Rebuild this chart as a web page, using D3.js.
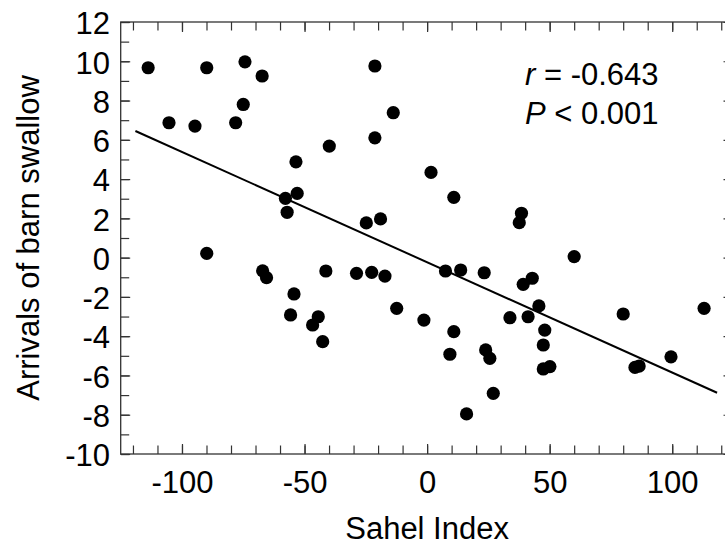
<!DOCTYPE html>
<html>
<head>
<meta charset="utf-8">
<script src="https://cdn.jsdelivr.net/npm/d3@7"></script>
<style>
  body { margin: 0; background: #fff; }
  svg text { font-family: Arial, "Liberation Sans", sans-serif; fill: #000; }
</style>
</head>
<body>
<script>
// Sahel Index (x) and barn swallow arrival anomaly (y)
const sahel = [-113.8, -89.9, -74.3, -67.3, -105.3, -94.7, -78.1, -75.0, -39.9, -53.5,
  -53.0, -57.8, -57.1, -89.9, -24.8, -21.3, -21.3, -13.8, 1.6, 10.9,
  -19.0, 38.5, 37.6, 60.0, -67.1, -65.5, -41.3, -28.8, -22.6, -17.2,
  -54.3, -55.7, -44.4, -46.7, -42.6, -12.4, -1.3, 7.5, 13.7, 23.3,
  10.9, 9.3, 23.9, 25.6, 27.0, 16.1, 33.8, 39.2, 42.9, 45.6,
  41.2, 48.0, 47.4, 47.4, 50.1, 80.0, 84.8, 86.5, 99.5, 113.0];
const arrival = [9.67, 9.67, 9.97, 9.25, 6.87, 6.70, 6.87, 7.80, 5.68, 4.88,
  3.27, 3.02, 2.31, 0.22, 1.77, 9.76, 6.10, 7.38, 4.34, 3.07,
  1.97, 2.26, 1.78, 0.05, -0.67, -1.02, -0.68, -0.80, -0.75, -0.94,
  -1.85, -2.92, -3.01, -3.43, -4.28, -2.58, -3.18, -0.68, -0.63, -0.77,
  -3.77, -4.92, -4.70, -5.13, -6.91, -7.96, -3.06, -1.36, -1.05, -2.46,
  -3.01, -3.69, -4.45, -5.67, -5.55, -2.87, -5.59, -5.52, -5.05, -2.58];

// regression line end points
const fitX = [-119, 118.3];
const fitY = [6.45, -6.88];

const xMajor = [-100, -50, 0, 50, 100];
const xMinor = d3.range(-120, 121, 10);
const yMajor = [-10, -8, -6, -4, -2, 0, 2, 4, 6, 8, 10, 12];
const yMinor = d3.range(-10, 13, 1);

const width = 725, height = 545;
const plotL = 120.7, plotR = 733.5, plotT = 22, plotB = 454;

const svg = d3.select("body").append("svg")
  .attr("width", width)
  .attr("height", height);

const x = d3.scaleLinear().domain([-125, 125]).range([plotL, plotR]);
const y = d3.scaleLinear().domain([-10, 12]).range([plotB, plotT]);

const fs = 31;
const plain = d => String(d); // hyphen minus, like the original

// axes: ticks pointing inward on all four sides
function styleAxis(g) {
  g.select(".domain").remove();
  g.selectAll(".tick line").attr("stroke", "#333").attr("stroke-width", 1.2);
  g.selectAll(".tick text").style("font-size", fs + "px");
}

svg.append("g").attr("transform", `translate(0,${plotB})`)
  .call(d3.axisBottom(x).tickValues(xMinor).tickSize(-8.5).tickFormat(""))
  .call(styleAxis);
svg.append("g").attr("transform", `translate(0,${plotB})`)
  .call(d3.axisBottom(x).tickValues(xMajor).tickSize(-10).tickPadding(16.5).tickFormat(plain))
  .call(styleAxis);
svg.append("g").attr("transform", `translate(0,${plotT})`)
  .call(d3.axisTop(x).tickValues(xMinor).tickSize(-8.5).tickFormat(""))
  .call(styleAxis);
svg.append("g").attr("transform", `translate(0,${plotT})`)
  .call(d3.axisTop(x).tickValues(xMajor).tickSize(-10).tickFormat(""))
  .call(styleAxis);

svg.append("g").attr("transform", `translate(${plotL},0)`)
  .call(d3.axisLeft(y).tickValues(yMinor).tickSize(-8.5).tickFormat(""))
  .call(styleAxis);
svg.append("g").attr("transform", `translate(${plotL},0)`)
  .call(d3.axisLeft(y).tickValues(yMajor).tickSize(-9.5).tickPadding(10.7).tickFormat(plain))
  .call(styleAxis)
  .selectAll(".tick text").attr("dy", "0.38em");
svg.append("g").attr("transform", `translate(${plotR},0)`)
  .call(d3.axisRight(y).tickValues(yMinor).tickSize(-8.5).tickFormat(""))
  .call(styleAxis);
svg.append("g").attr("transform", `translate(${plotR},0)`)
  .call(d3.axisRight(y).tickValues(yMajor).tickSize(-10).tickFormat(""))
  .call(styleAxis);

// frame
svg.append("rect")
  .attr("x", plotL).attr("y", plotT)
  .attr("width", plotR - plotL).attr("height", plotB - plotT)
  .attr("fill", "none").attr("stroke", "#333").attr("stroke-width", 1.3);

// regression line
svg.append("line")
  .attr("x1", x(fitX[0])).attr("y1", y(fitY[0]))
  .attr("x2", x(fitX[1])).attr("y2", y(fitY[1]))
  .attr("stroke", "#000").attr("stroke-width", 2);

// points
svg.selectAll("circle.pt")
  .data(d3.zip(sahel, arrival))
  .enter()
  .append("circle")
  .attr("class", "pt")
  .attr("cx", d => x(d[0]))
  .attr("cy", d => y(d[1]))
  .attr("r", 6.6)
  .attr("fill", "#000");

// statistics
const stats = svg.append("g").style("font-size", fs + "px");
const t1 = stats.append("text").attr("x", 525).attr("y", 85);
t1.append("tspan").style("font-style", "italic").text("r");
t1.append("tspan").text(" = -0.643");
const t2 = stats.append("text").attr("x", 525).attr("y", 124);
t2.append("tspan").style("font-style", "italic").text("P");
t2.append("tspan").text(" < 0.001");

// axis titles
svg.append("text")
  .attr("x", x(0)).attr("y", 539)
  .attr("text-anchor", "middle")
  .style("font-size", fs + "px")
  .text("Sahel Index");

svg.append("text")
  .attr("transform", `translate(39,${(plotT + plotB) / 2}) rotate(-90)`)
  .attr("text-anchor", "middle")
  .style("font-size", fs + "px")
  .text("Arrivals of barn swallow");
</script>
</body>
</html>
